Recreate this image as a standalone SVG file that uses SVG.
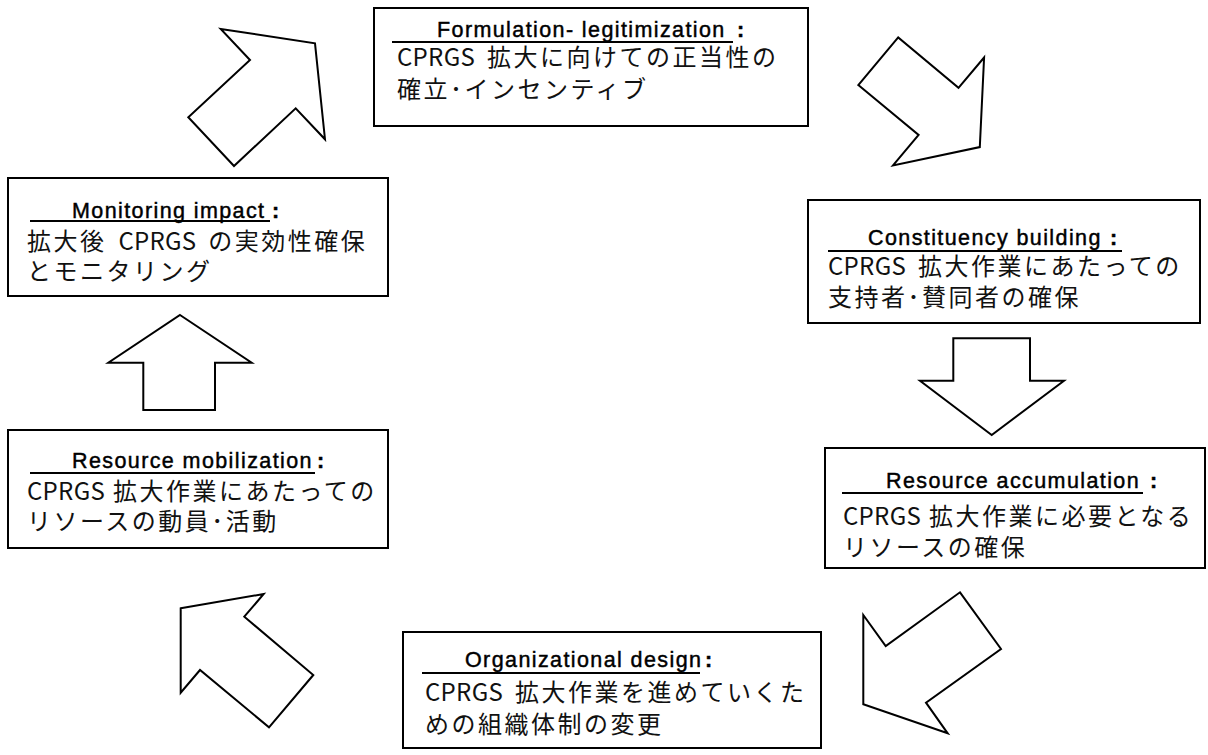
<svg xmlns="http://www.w3.org/2000/svg" width="1208" height="755" viewBox="0 0 1208 755">
<style>
.box{fill:#fff;stroke:#000;stroke-width:2}
.arr{fill:#fff;stroke:#000;stroke-width:2;stroke-linejoin:miter}
.hd{font-family:"Liberation Sans",Arial,sans-serif;font-size:21.5px;letter-spacing:1.4px;fill:#000;stroke:#000;stroke-width:0.45}
.col{letter-spacing:0;font-weight:bold}
.ul{stroke:#000;stroke-width:2}
.bd{font-family:"Noto Sans CJK JP",sans-serif;font-size:24px;letter-spacing:2.5px;word-spacing:4px;fill:#111}
.lat{letter-spacing:0.3px}
</style>
<rect width="1208" height="755" fill="#fff"/>
<g id="connectors">
<polygon class="arr" points="220.7,29 315,43.3 325,139.3 295.7,108.3 234,166 188.3,117.3 250,60"/>
<polygon class="arr" points="858.3,85 918.6,135 893,165.4 979.8,147.1 984.1,57.5 958.5,87.8 898.2,37.4"/>
<polygon class="arr" points="953.3,338.3 1030,338.3 1030,380.7 1064,380.7 991.7,435 920,380.7 953.3,380.7"/>
<polygon class="arr" points="960,592.3 1001,649 926,702.7 947.7,733.3 863.3,704.3 863.3,615 885.7,646"/>
<polygon class="arr" points="180.7,608.3 263.7,594 244.3,616.7 313.3,675 269,727.3 200,670 180.7,692.7"/>
<polygon class="arr" points="180,315 251.7,362.7 215,362.7 215,410 143.3,410 143.3,362.7 108.3,362.7"/>
</g>
<g id="formulation">
<rect class="box" x="374" y="8" width="434" height="118"/>
<line class="ul" x1="392" y1="42" x2="733" y2="42"/>
<text class="hd" y="37"><tspan x="437">Formulation- legitimization</tspan><tspan class="col" x="737">:</tspan></text>
<text class="bd" x="397" y="66"><tspan class="lat">CPRGS</tspan> 拡大に向けての正当性の</text>
<text class="bd" x="397" y="98">確立･インセンティブ</text>
</g>
<g id="constituency">
<rect class="box" x="808" y="200" width="392" height="123"/>
<line class="ul" x1="828" y1="251" x2="1122" y2="251"/>
<text class="hd" y="245"><tspan x="868">Constituency building</tspan><tspan class="col" x="1110">:</tspan></text>
<text class="bd" x="828" y="275"><tspan class="lat">CPRGS</tspan> 拡大作業にあたっての</text>
<text class="bd" x="828" y="306">支持者･賛同者の確保</text>
</g>
<g id="accumulation">
<rect class="box" x="825" y="448" width="380" height="120"/>
<line class="ul" x1="842" y1="493" x2="1143" y2="493"/>
<text class="hd" y="488"><tspan x="886">Resource accumulation</tspan><tspan class="col" x="1150">:</tspan></text>
<text class="bd" x="843" y="525" style="word-spacing:0"><tspan class="lat">CPRGS</tspan> 拡大作業に必要となる</text>
<text class="bd" x="843" y="556">リソースの確保</text>
</g>
<g id="organizational">
<rect class="box" x="403" y="632" width="418" height="116"/>
<line class="ul" x1="422" y1="673" x2="700" y2="673"/>
<text class="hd" y="667"><tspan x="465">Organizational design</tspan><tspan class="col" x="705">:</tspan></text>
<text class="bd" x="425" y="701"><tspan class="lat">CPRGS</tspan> 拡大作業を進めていくた</text>
<text class="bd" x="425" y="733">めの組織体制の変更</text>
</g>
<g id="mobilization">
<rect class="box" x="8" y="430" width="380" height="118"/>
<line class="ul" x1="30" y1="473" x2="315" y2="473"/>
<text class="hd" y="468"><tspan x="72">Resource mobilization</tspan><tspan class="col" x="317">:</tspan></text>
<text class="bd" x="27" y="500" style="word-spacing:0"><tspan class="lat">CPRGS</tspan> 拡大作業にあたっての</text>
<text class="bd" x="27" y="530">リソースの動員･活動</text>
</g>
<g id="monitoring">
<rect class="box" x="8" y="178" width="380" height="118"/>
<line class="ul" x1="30" y1="221" x2="270" y2="221"/>
<text class="hd" y="218"><tspan x="72">Monitoring impact</tspan><tspan class="col" x="272">:</tspan></text>
<text class="bd" x="27" y="250">拡大後 <tspan class="lat">CPRGS</tspan> の実効性確保</text>
<text class="bd" x="27" y="280">とモニタリング</text>
</g>
</svg>
